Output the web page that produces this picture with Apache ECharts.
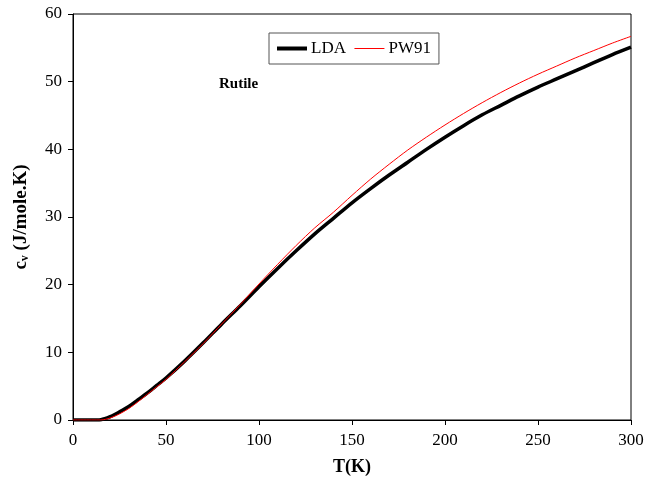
<!DOCTYPE html>
<html>
<head>
<meta charset="utf-8">
<script src="https://cdn.jsdelivr.net/npm/echarts@6/dist/echarts.min.js"></script>
<style>
  html, body { margin: 0; padding: 0; background: #fff; }
  #chart { width: 647px; height: 483px; }
</style>
</head>
<body>
<div id="chart"></div>
<script>
// --- data (T in K, cv in J/mole.K) ---
const temps = [0, 10, 15, 20, 25, 30, 35, 40, 45, 50, 60, 70, 80, 90, 100, 110, 120, 130, 140, 150,
  160, 170, 180, 190, 200, 210, 220, 230, 240, 250, 260, 270, 280, 290, 300];
const ldaValues = [0, 0, 0.05, 0.5, 1.2, 2.0, 3.0, 4.0, 5.1, 6.2, 8.7, 11.4, 14.2, 16.9, 19.7, 22.4, 25.0, 27.5, 29.8, 32.1,
  34.2, 36.2, 38.1, 40.0, 41.8, 43.5, 45.1, 46.5, 47.9, 49.2, 50.4, 51.6, 52.8, 54.0, 55.1];
const pw91Values = [0, 0, 0, 0.3, 0.9, 1.7, 2.7, 3.8, 4.9, 6.0, 8.6, 11.3, 14.2, 17.1, 20.1, 23.0, 25.8, 28.4, 30.7, 33.2,
  35.6, 37.8, 39.9, 41.8, 43.6, 45.3, 46.9, 48.4, 49.8, 51.1, 52.3, 53.5, 54.6, 55.7, 56.7];
const xTicks = [0, 50, 100, 150, 200, 250, 300];
const yTicks = [0, 10, 20, 30, 40, 50, 60];

const FONT = 'Liberation Serif';
const chart = echarts.init(document.getElementById('chart'));

const pairs = vals => temps.map((t, i) => [t, vals[i]]);

chart.setOption({
  backgroundColor: '#fff',
  animation: false,
  grid: {
    left: 73, right: 16, top: 14, bottom: 63,
    show: true, borderColor: '#000', borderWidth: 1
  },
  legend: {
    left: 269, top: 33,
    padding: [7, 8, 7, 6],
    itemGap: 8,
    itemWidth: 30,
    itemHeight: 14,
    borderColor: '#555',
    borderWidth: 1,
    itemStyle: { opacity: 0 },
    textStyle: { fontFamily: FONT, fontSize: 17, color: '#000', padding: [0, 0, 0, -1] },
    data: [
      { name: 'LDA', lineStyle: { width: 4, color: '#000' } },
      { name: 'PW91', lineStyle: { width: 1, color: '#ff0000' } }
    ]
  },
  graphic: [{
    type: 'text', left: 219, top: 77,
    style: { text: 'Rutile', font: 'bold 15px "Liberation Serif"', fill: '#000' }
  }],
  xAxis: {
    type: 'value',
    min: xTicks[0], max: xTicks[xTicks.length - 1], interval: 50,
    name: 'T(K)', nameLocation: 'middle', nameGap: 38,
    nameTextStyle: { fontFamily: FONT, fontSize: 18, fontWeight: 'bold', color: '#000' },
    axisLine: { lineStyle: { color: '#000', width: 1 } },
    axisTick: { show: true, length: 5, lineStyle: { color: '#000' } },
    axisLabel: { fontFamily: FONT, fontSize: 17, color: '#000', margin: 12 },
    splitLine: { show: false }
  },
  yAxis: {
    type: 'value',
    min: yTicks[0], max: yTicks[yTicks.length - 1], interval: 10,
    name: '{a|c}{s|v}{a| (J/mole.K)}', nameLocation: 'middle', nameGap: 42, nameRotate: 90,
    nameTextStyle: {
      rich: {
        a: { fontFamily: FONT, fontSize: 19, fontWeight: 'bold', color: '#000' },
        s: { fontFamily: FONT, fontSize: 12, fontWeight: 'bold', color: '#000', verticalAlign: 'bottom', padding: [6, 0, 0, 0] }
      }
    },
    axisLine: { show: true, lineStyle: { color: '#000', width: 1 } },
    axisTick: { show: true, length: 5, lineStyle: { color: '#000' } },
    axisLabel: { fontFamily: FONT, fontSize: 17, color: '#000', margin: 11 },
    splitLine: { show: false }
  },
  series: [
    {
      name: 'LDA', type: 'line', symbol: 'none', smooth: 0.3,
      data: pairs(ldaValues),
      lineStyle: { color: '#000', width: 3.5 },
      itemStyle: { color: '#000' },
      z: 2
    },
    {
      name: 'PW91', type: 'line', symbol: 'none', smooth: 0.3,
      data: pairs(pw91Values),
      lineStyle: { color: '#ff0000', width: 1 },
      itemStyle: { color: '#ff0000' },
      z: 3
    }
  ]
});
</script>
</body>
</html>
